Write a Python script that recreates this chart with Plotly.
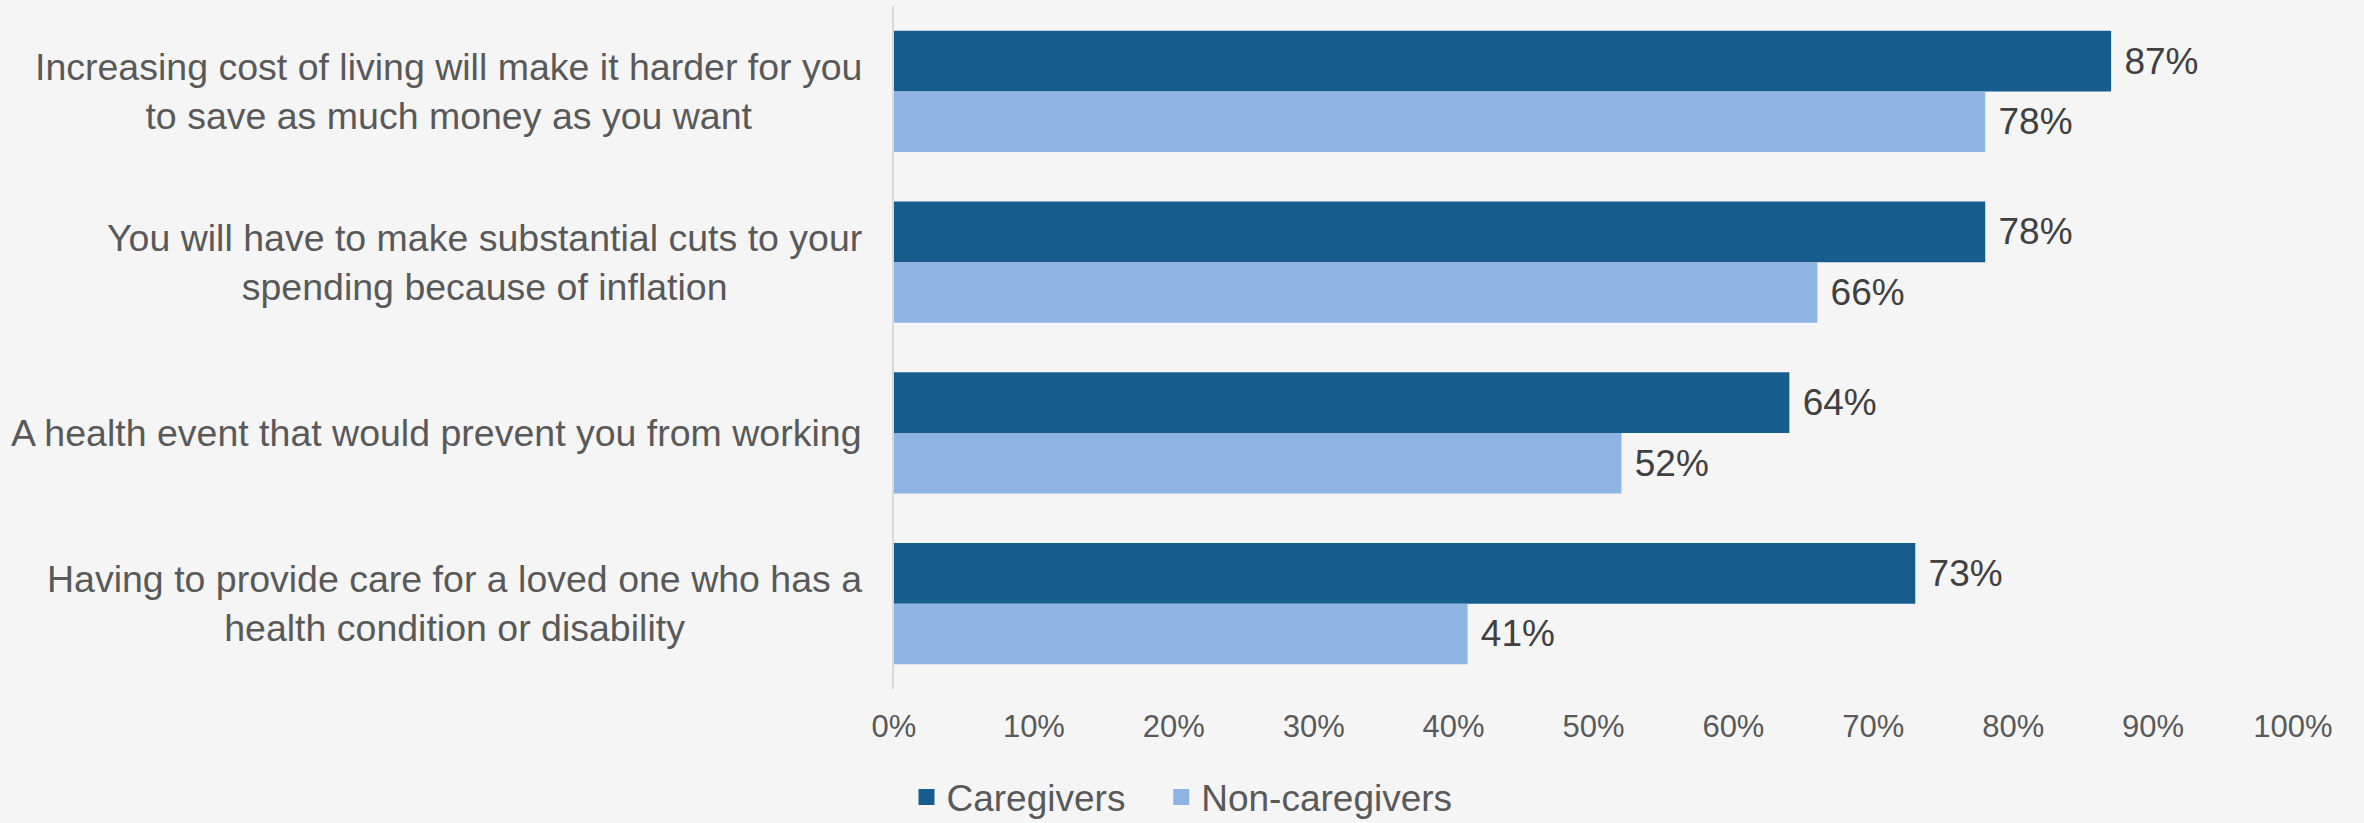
import plotly.graph_objects as go

# Survey items (top to bottom) and the share of each group worried about them
categories = [
    "Increasing cost of living will make it harder for you<br>to save as much money as you want",
    "You will have to make substantial cuts to your<br>spending because of inflation",
    "A health event that would prevent you from working",
    "Having to provide care for a loved one who has a<br>health condition or disability",
]
caregivers = [87, 78, 64, 73]
non_caregivers = [78, 66, 52, 41]
x_ticks = [0, 10, 20, 30, 40, 50, 60, 70, 80, 90, 100]
x_tick_labels = [f"{v}%" for v in x_ticks]

FONT = "Arial, Liberation Sans, sans-serif"
DARK = "#165D8E"
LIGHT = "#8EB4E3"
BG = "#F5F5F5"

series = [
    ("Caregivers", caregivers, DARK),
    ("Non-caregivers", non_caregivers, LIGHT),
]

fig = go.Figure()
for name, vals, color in series:
    fig.add_trace(go.Bar(
        name=name,
        legendgroup=name,
        showlegend=False,
        y=categories,
        x=vals,
        orientation="h",
        marker=dict(color=color, line=dict(width=0)),
        text=[f"{v}%" for v in vals],
        texttemplate="\u00a0%{text}",
        textposition="outside",
        constraintext="none",
        cliponaxis=False,
        textfont=dict(family=FONT, size=37, color="#404040"),
    ))

# Legend entries with larger square swatches
for i, (name, vals, color) in enumerate(series):
    pad = "\u00a0\u00a0\u00a0" if i == 0 else ""
    fig.add_trace(go.Scatter(
        name=name + pad,
        legendgroup=name,
        x=[None], y=[None],
        mode="markers",
        marker=dict(symbol="square", size=17, color=color),
        showlegend=True,
        hoverinfo="skip",
    ))

# Category labels, centred line by line to the left of the axis
for cat in categories:
    fig.add_annotation(
        x=0, xref="paper", y=cat, yref="y",
        text=cat, showarrow=False,
        xanchor="right", yanchor="middle", align="center",
        xshift=-30,
        font=dict(family=FONT, size=37.5, color="#595959"),
    )

fig.update_layout(
    width=2364, height=823,
    margin=dict(l=894, r=71, t=6, b=134),
    paper_bgcolor=BG, plot_bgcolor=BG,
    barmode="group", bargap=0.29, bargroupgap=0,
    showlegend=True,
    legend=dict(
        orientation="h", xref="container", yref="container",
        x=0.5, xanchor="center", y=0.031, yanchor="middle",
        itemsizing="trace",
        font=dict(family=FONT, size=37, color="#595959"),
        bgcolor="rgba(0,0,0,0)", itemclick=False,
    ),
    xaxis=dict(
        range=[0, 100], tickvals=x_ticks, ticktext=x_tick_labels,
        showgrid=False, zeroline=False, showline=False,
        tickfont=dict(family=FONT, size=31, color="#595959"),
        ticklabelstandoff=16,
    ),
    yaxis=dict(
        autorange="reversed", showticklabels=False,
        showgrid=False, zeroline=False,
        showline=True, linecolor="#D9D9D9", linewidth=2,
    ),
)

fig.write_html("out.html")
